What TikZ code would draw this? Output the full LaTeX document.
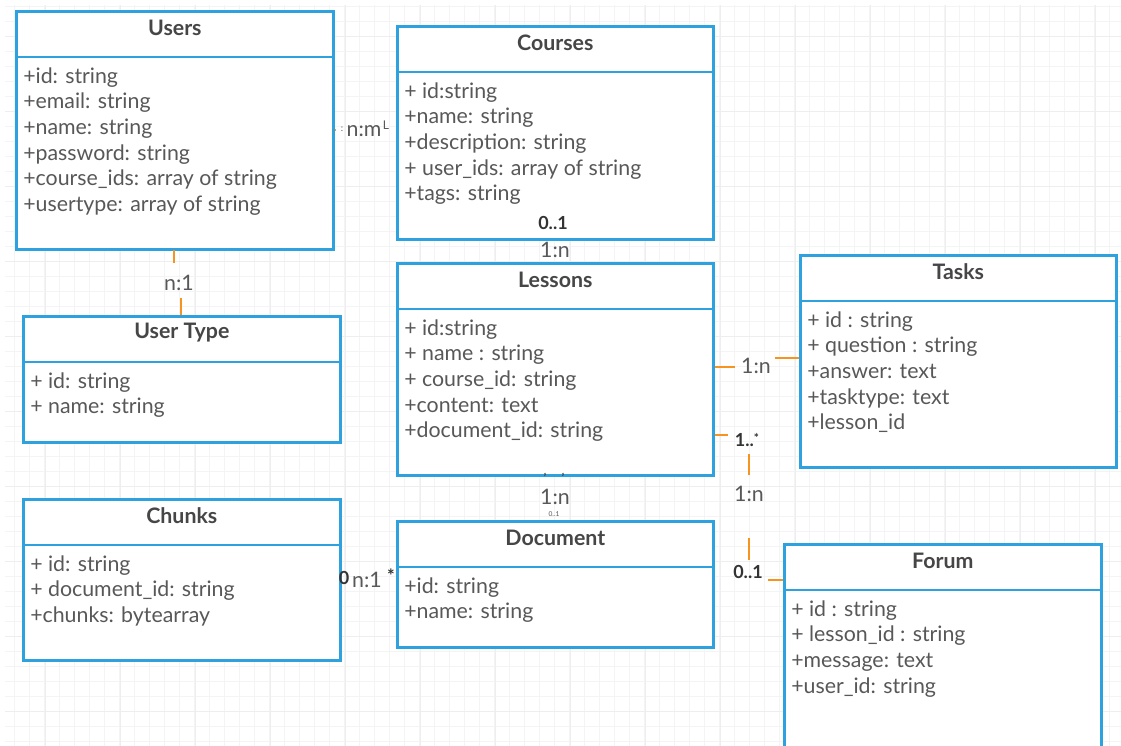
\documentclass[tikz,border=0pt]{standalone}
\usepackage{fontspec}
\setmainfont{Lato}
\definecolor{boxblue}{RGB}{45,162,222}
\definecolor{linkorange}{RGB}{247,148,32}
\definecolor{titlegray}{RGB}{70,70,70}
\definecolor{textgray}{RGB}{88,88,88}
\definecolor{gridgray}{RGB}{244,244,244}
\definecolor{gridmajor}{RGB}{238,238,238}

\tikzset{
  classframe/.style={draw=boxblue, line width=2pt, fill=white, rectangle, inner sep=0pt},
  classdivider/.style={draw=boxblue, line width=2pt},
  classtitle/.style={font=\fontsize{16}{18}\selectfont\bfseries, text=titlegray, inner sep=0pt},
  classbody/.style={font=\fontsize{16}{19.2}\selectfont, text=textgray, align=left, inner sep=0pt, anchor=north west},
  link/.style={draw=linkorange, line width=2pt},
  cardlabel/.style={font=\fontsize{16}{18}\selectfont, text=textgray, inner sep=0pt},
  multlabel/.style={font=\fontsize{13.5}{15}\selectfont\bfseries, text=black!80, inner sep=0pt},
  tinymark/.style={font=\fontsize{7}{8}\selectfont, text=textgray, inner sep=0pt}
}

% class box: name, left, top, right, bottom, title, attribute lines
\newcommand{\umlclass}[7]{%
  \node[classframe, anchor=north west,
        minimum width={(#4-#2)*0.75pt}, minimum height={(#5-#3)*0.75pt}] (#1) at (#2,#3) {};
  \draw[classdivider] ([yshift=-35.25pt]#1.north west) -- ([yshift=-35.25pt]#1.north east);
  \node[classtitle] (#1-title) at ([yshift=-13.5pt]#1.north) {#6};
  \node[classbody] (#1-attrs) at ([xshift=6pt,yshift=-43pt]#1.north west) {#7};
}

\begin{document}
\begin{tikzpicture}[x=0.75pt,y=-0.75pt]
\useasboundingbox (0,0) rectangle (1121,746);
\fill[white] (0,0) rectangle (1121,746);

% background grid
\foreach \gx in {14,29,...,1121} {\draw[gridgray, line width=0.6pt] (\gx,5) -- (\gx,746);}
\foreach \gy in {6,21,...,746} {\draw[gridgray, line width=0.6pt] (5,\gy) -- (1121,\gy);}
\foreach \gx in {45,120,...,1121} {\draw[gridmajor, line width=0.6pt] (\gx,5) -- (\gx,746);}
\foreach \gy in {36,111,...,746} {\draw[gridmajor, line width=0.6pt] (5,\gy) -- (1121,\gy);}

% classes
\umlclass{users}{15}{10}{332}{248}{Users}{+id: string\\+email: string\\+name: string\\+password: string\\+course\_ids: array of string\\+usertype: array of string}
\umlclass{courses}{396}{25}{712}{238}{Courses}{+ id:string\\+name: string\\+description: string\\+ user\_ids: array of string\\+tags: string}
\umlclass{lessons}{396}{262}{712}{474}{Lessons}{+ id:string\\+ name : string\\+ course\_id: string\\+content: text\\+document\_id: string}
\umlclass{tasks}{799}{254}{1115}{466}{Tasks}{+ id : string\\+ question : string\\+answer: text\\+tasktype: text\\+lesson\_id}
\umlclass{usertype}{22}{315}{339}{441}{User Type}{+ id: string\\+ name: string}
\umlclass{chunks}{22}{498}{339}{659}{Chunks}{+ id: string\\+ document\_id: string\\+chunks: bytearray}
\umlclass{document}{396}{520}{712}{646}{Document}{+id: string\\+name: string}
\umlclass{forum}{783}{543}{1100}{760}{Forum}{+ id : string\\+ lesson\_id : string\\+message: text\\+user\_id: string}

% Users -- Courses (n:m)
\coordinate (uc-a) at (users.east |- 0,130);
\coordinate (uc-b) at (336,130);
\draw[link] (uc-a) -- (uc-b);
\node[tinymark] (uc-m1) at (342,129) {:};
\node[cardlabel] (uc-lbl) at (364,131) {n:m};
\node[tinymark, font=\fontsize{9}{10}\selectfont] (uc-m2) at (386,125) {L};

% Users -- User Type (n:1)
\coordinate (ut-a) at (174,250);
\coordinate (ut-b) at (174,263);
\coordinate (ut-c) at (181,298);
\coordinate (ut-d) at (181,315);
\draw[link] (ut-a) -- (ut-b);
\draw[link] (ut-c) -- (ut-d);
\node[cardlabel] (ut-lbl) at (179,283) {n:1};

% Courses -- Lessons (1:n)
\node[multlabel] (cl-mult) at (553,223) {0..1};
\node[cardlabel] (cl-lbl) at (555,250) {1:n};

% Lessons -- Tasks (1:n)
\coordinate (lt-a) at (lessons.east |- 0,367);
\coordinate (lt-b) at (735,367);
\coordinate (lt-c) at (775,358);
\coordinate (lt-d) at (tasks.west |- 0,358);
\draw[link] (lt-a) -- (lt-b);
\draw[link] (lt-c) -- (lt-d);
\node[cardlabel] (lt-lbl) at (756,366) {1:n};

% Lessons -- Forum (1:n)
\coordinate (lf-a) at (lessons.east |- 0,435);
\coordinate (lf-b) at (728,435);
\coordinate (lf-c) at (749,454);
\coordinate (lf-d) at (749,475);
\coordinate (lf-e) at (749,538);
\coordinate (lf-f) at (749,560);
\coordinate (lf-g) at (768,580);
\coordinate (lf-h) at (forum.west |- 0,580);
\draw[link] (lf-a) -- (lf-b);
\draw[link] (lf-c) -- (lf-d);
\draw[link] (lf-e) -- (lf-f);
\draw[link] (lf-g) -- (lf-h);
\node[multlabel] (lf-m1) at (747,440) {1..\raisebox{3pt}{\fontsize{9}{10}\selectfont*}};
\node[cardlabel] (lf-lbl) at (749,494) {1:n};
\node[multlabel] (lf-m2) at (748,572) {0..1};

% Lessons -- Document (1:n)
\node[tinymark, font=\fontsize{8}{9}\selectfont\bfseries, text=black!80] (ld-m1) at (545,477) {'};
\node[tinymark, font=\fontsize{8}{9}\selectfont\bfseries, text=black!80] (ld-m2) at (563,477) {'};
\node[cardlabel] (ld-lbl) at (555,497) {1:n};
\node[tinymark, font=\fontsize{5}{6}\selectfont] (ld-m3) at (554,514) {0..1};

% Chunks -- Document (n:1)
\node[multlabel] (cd-m1) at (344,578) {0};
\node[cardlabel] (cd-lbl) at (367,580) {n:1};
\node[multlabel] (cd-m2) at (391,576) {*};
\end{tikzpicture}
\end{document}
